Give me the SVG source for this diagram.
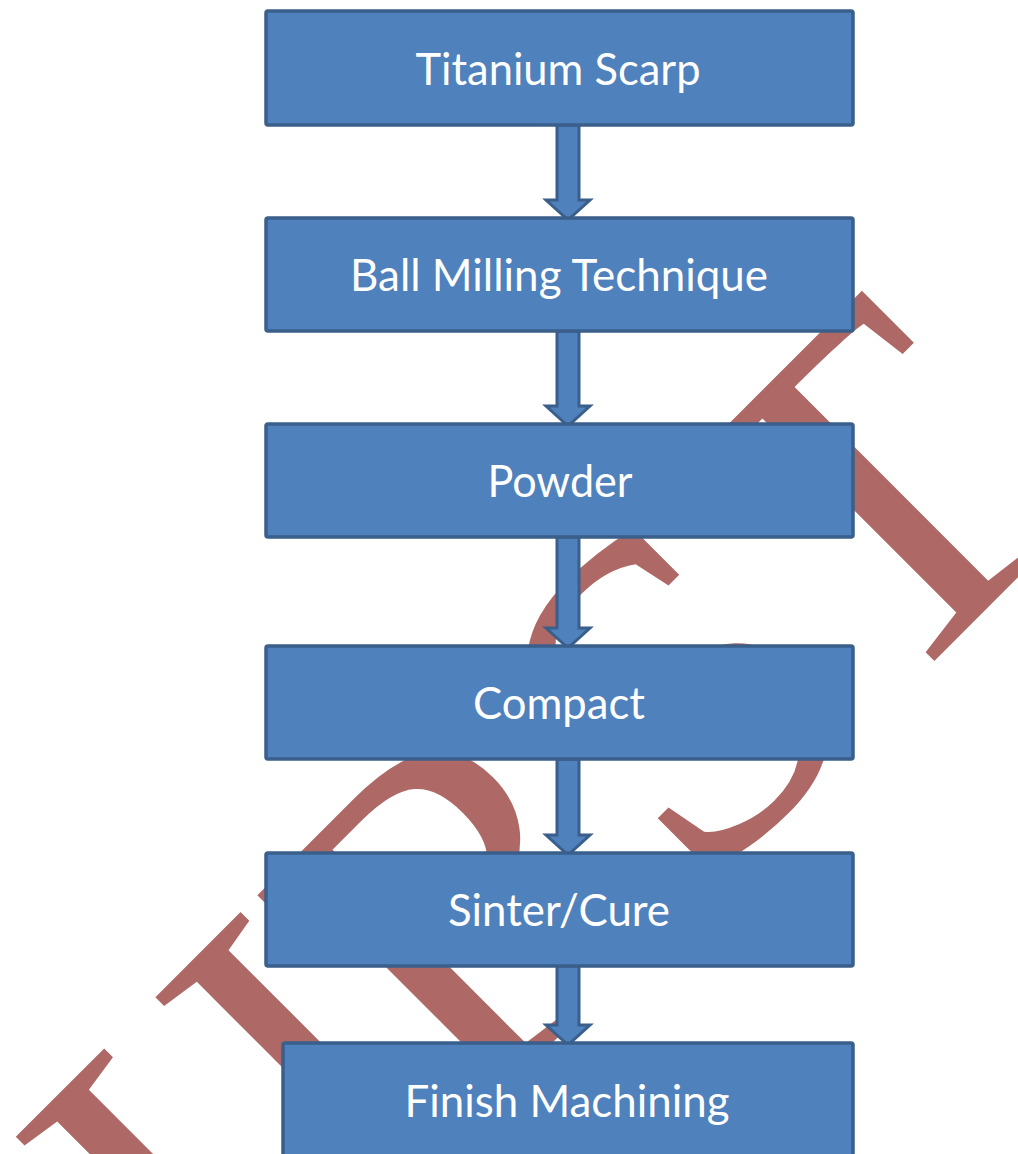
<svg xmlns="http://www.w3.org/2000/svg" width="1018" height="1154" viewBox="0 0 1018 1154">
<style>
.box{fill:#4f81bd;stroke:#3a5f8b;stroke-width:3.5}
.arr{fill:#4f81bd;stroke:#3a5f8b;stroke-width:3;stroke-linejoin:miter}
.lbl{fill:#ffffff;font-family:Lato,"Open Sans",sans-serif;font-size:45px;text-anchor:middle}
.wm{fill:#ae6865;font-family:"Liberation Serif","Times New Roman",serif;font-size:478px}
</style>
<rect width="1018" height="1154" fill="#ffffff"/>
<g id="watermark">
<text class="wm" x="-810" y="1128" transform="rotate(-45)">IJRST</text>
</g>
<g id="connectors">
<path class="arr" d="M557,125 V200 H546 L568,220 L590,200 H579 V125 Z"/>
<path class="arr" d="M557,331 V406 H546 L568,426 L590,406 H579 V331 Z"/>
<path class="arr" d="M557,537 V628 H546 L568,648 L590,628 H579 V537 Z"/>
<path class="arr" d="M557,759 V835 H546 L568,855 L590,835 H579 V759 Z"/>
<path class="arr" d="M557,966 V1025 H546 L568,1045 L590,1025 H579 V966 Z"/>
</g>
<g id="n1"><rect class="box" x="266" y="11" width="587" height="114" rx="2"/><text class="lbl" x="558" y="85" textLength="285" lengthAdjust="spacingAndGlyphs">Titanium Scarp</text></g>
<g id="n2"><rect class="box" x="266" y="218" width="587" height="113" rx="2"/><text class="lbl" x="559" y="291" textLength="418" lengthAdjust="spacingAndGlyphs">Ball Milling Technique</text></g>
<g id="n3"><rect class="box" x="266" y="424" width="587" height="113" rx="2"/><text class="lbl" x="560" y="497" textLength="145" lengthAdjust="spacingAndGlyphs">Powder</text></g>
<g id="n4"><rect class="box" x="266" y="646" width="587" height="113" rx="2"/><text class="lbl" x="559" y="719" textLength="172" lengthAdjust="spacingAndGlyphs">Compact</text></g>
<g id="n5"><rect class="box" x="266" y="853" width="587" height="113" rx="2"/><text class="lbl" x="559" y="926" textLength="222" lengthAdjust="spacingAndGlyphs">Sinter/Cure</text></g>
<g id="n6"><rect class="box" x="283" y="1043" width="570" height="120" rx="2"/><text class="lbl" x="567" y="1117" textLength="325" lengthAdjust="spacingAndGlyphs">Finish Machining</text></g>
</svg>
